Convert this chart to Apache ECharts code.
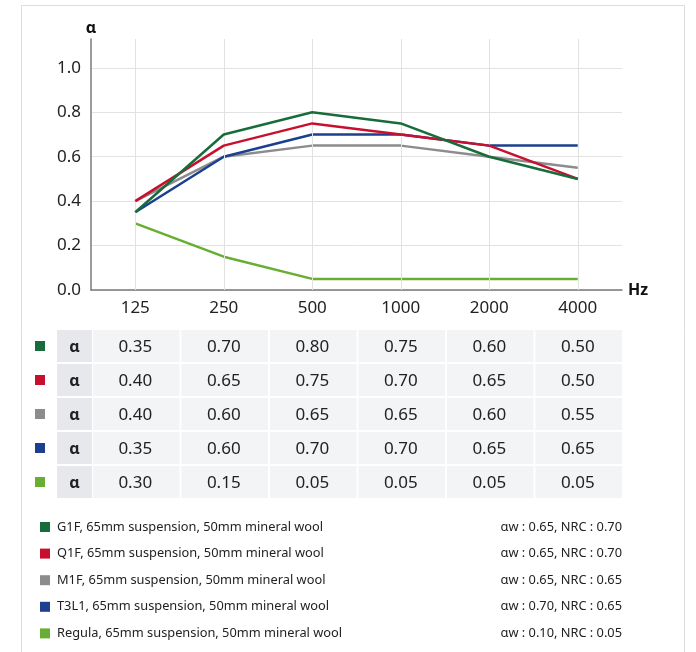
<!DOCTYPE html>
<html>
<head>
<meta charset="utf-8">
<script src="https://cdn.jsdelivr.net/npm/echarts@6/dist/echarts.min.js"></script>
<style>
  html, body { margin: 0; padding: 0; background: #fff; }
  #chart { width: 696px; height: 652px; }
</style>
</head>
<body>
<div id="chart"></div>
<script>
// frequency bands (Hz)
const freqs = ['125', '250', '500', '1000', '2000', '4000'];

// absorption coefficients per product
const g1f = [0.35, 0.70, 0.80, 0.75, 0.60, 0.50];
const q1f = [0.40, 0.65, 0.75, 0.70, 0.65, 0.50];
const m1f = [0.40, 0.60, 0.65, 0.65, 0.60, 0.55];
const t3l1 = [0.35, 0.60, 0.70, 0.70, 0.65, 0.65];
const regula = [0.30, 0.15, 0.05, 0.05, 0.05, 0.05];

const names = [
  'G1F, 65mm suspension, 50mm mineral wool',
  'Q1F, 65mm suspension, 50mm mineral wool',
  'M1F, 65mm suspension, 50mm mineral wool',
  'T3L1, 65mm suspension, 50mm mineral wool',
  'Regula, 65mm suspension, 50mm mineral wool'
];
const ratings = [
  'αw : 0.65, NRC : 0.70',
  'αw : 0.65, NRC : 0.70',
  'αw : 0.65, NRC : 0.65',
  'αw : 0.70, NRC : 0.65',
  'αw : 0.10, NRC : 0.05'
];

const colors = ['#186c3b', '#c8102e', '#8c8c8c', '#1c3f8f', '#68ae32'];
const rows = [g1f, q1f, m1f, t3l1, regula];
const font = '"Noto Sans", sans-serif';

// table cells: [col, row, value]
const tableData = [];
rows.forEach((r, ri) => r.forEach((v, ci) => tableData.push([ci, ri, v])));

function lineSeries(i, z) {
  return {
    name: names[i],
    type: 'line',
    data: rows[i],
    symbol: 'none',
    z: z,
    lineStyle: { width: 2.5, color: colors[i] },
    itemStyle: { color: colors[i] },
    emphasis: { disabled: true }
  };
}

const chart = echarts.init(document.getElementById('chart'), null, { renderer: 'canvas' });

const option = {
  animation: false,
  color: colors,
  textStyle: { fontFamily: font },
  graphic: [{
    type: 'rect',
    left: 19, top: 3, z: -1,
    shape: { width: 663, height: 700 },
    style: { fill: 'none', stroke: '#dcdcdc', lineWidth: 1 }
  }],
  grid: [
    { left: 91, right: 74, top: 39, bottom: 362 },
    { left: 91, right: 74, top: 329, height: 170 }
  ],
  xAxis: [{
    type: 'category',
    data: freqs,
    boundaryGap: true,
    name: 'Hz',
    nameGap: 6,
    nameTextStyle: { fontSize: 16, fontWeight: 'bold', color: '#111', align: 'left', verticalAlign: 'middle' },
    axisLine: { lineStyle: { color: '#7a7a7a', width: 1.5 } },
    axisTick: { show: false },
    axisLabel: { fontSize: 17, color: '#222', margin: 10 },
    splitLine: { show: false }
  }, {
    gridIndex: 1,
    type: 'category',
    data: freqs,
    show: false
  }],
  yAxis: [{
    type: 'value',
    min: 0,
    max: 1.13,
    interval: 0.2,
    name: 'α',
    nameGap: 11,
    nameTextStyle: { fontSize: 16, fontWeight: 'bold', color: '#111', align: 'center', verticalAlign: 'middle' },
    axisLine: { show: true, lineStyle: { color: '#7a7a7a', width: 1.5 } },
    axisTick: { show: false },
    axisLabel: {
      fontSize: 17, color: '#222', margin: 10, showMaxLabel: false,
      formatter: v => (v > 1.05 ? '' : v.toFixed(1))
    },
    splitLine: { show: true, showMaxLine: false, lineStyle: { color: '#e2e2e2', width: 1 } }
  }, {
    gridIndex: 1,
    type: 'category',
    data: names,
    inverse: true,
    show: false
  }],
  legend: {
    orient: 'vertical',
    left: 35,
    top: 514,
    icon: 'rect',
    itemWidth: 10,
    itemHeight: 10,
    itemGap: 10.6,
    selectedMode: false,
    data: names,
    formatter: name => {
      const i = names.indexOf(name);
      return '{n|' + name + '}{r|' + ratings[i] + '}';
    },
    textStyle: {
      fontFamily: font,
      fontSize: 12.8,
      color: '#222',
      lineHeight: 16,
      height: 16,
      rich: {
        n: { width: 435, padding: [0, 0, 0, 2], fontSize: 12.8, color: '#222', lineHeight: 16 },
        r: { width: 130, align: 'right', fontSize: 12.8, color: '#222', lineHeight: 16 }
      }
    }
  },
  series: [
    {
      // vertical grid lines at category centres
      type: 'line',
      data: [],
      z: 1,
      silent: true,
      markLine: {
        silent: true,
        symbol: 'none',
        label: { show: false },
        lineStyle: { color: '#e2e2e2', type: 'solid', width: 1 },
        data: freqs.map(f => ({ xAxis: f }))
      }
    },
    lineSeries(4, 2),
    lineSeries(2, 3),
    lineSeries(3, 4),
    lineSeries(1, 5),
    lineSeries(0, 6),
    {
      type: 'custom',
      xAxisIndex: 1,
      yAxisIndex: 1,
      coordinateSystem: 'cartesian2d',
      data: tableData,
      silent: true,
      renderItem(params, api) {
        const ci = api.value(0), ri = api.value(1), v = api.value(2);
        const c = api.coord([ci, ri]);
        const s = api.size([1, 1]);
        const x0 = c[0] - s[0] / 2, y0 = c[1] - s[1] / 2;
        const kids = [{
          type: 'rect',
          shape: { x: x0 + 2, y: y0 + 1, width: s[0] - 2, height: s[1] - 2 },
          style: { fill: '#f3f4f6' }
        }, {
          type: 'text',
          style: {
            text: v.toFixed(2), x: c[0], y: c[1] + 1, align: 'center', verticalAlign: 'middle',
            font: '17px ' + font, fill: '#222'
          }
        }];
        if (ci === 0) {
          kids.push({
            type: 'rect',
            shape: { x: 57, y: y0 + 1, width: x0 + 1 - 57, height: s[1] - 2 },
            style: { fill: '#e6e8eb' }
          }, {
            type: 'text',
            style: {
              text: 'α', x: (57 + x0 + 1) / 2, y: c[1] + 1, align: 'center', verticalAlign: 'middle',
              font: 'bold 16px ' + font, fill: '#222'
            }
          }, {
            type: 'rect',
            shape: { x: 35, y: c[1] - 5, width: 10, height: 10 },
            style: { fill: colors[ri] }
          });
        }
        return { type: 'group', children: kids };
      }
    }
  ]
};

chart.setOption(option);
</script>
</body>
</html>
